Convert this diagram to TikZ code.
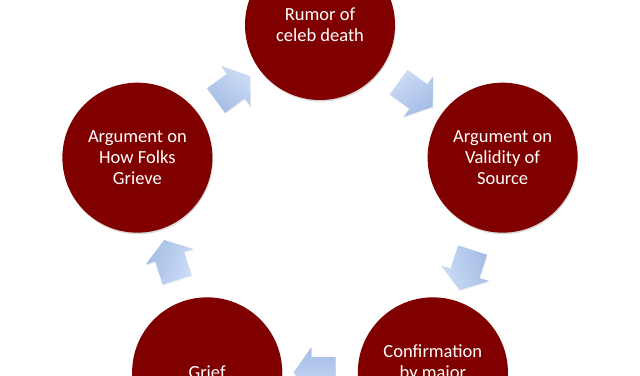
\documentclass[tikz,border=0pt]{standalone}
\usepackage{fontspec}
\setmainfont{Carlito}
\usetikzlibrary{calc,shapes.arrows,shadows}
\definecolor{stagered}{RGB}{128,0,0}
\definecolor{flowtop}{RGB}{204,220,246}
\definecolor{flowbot}{RGB}{164,188,229}

\begin{document}
\begin{tikzpicture}[
  stg/.style={circle, fill=stagered, minimum size=150pt, inner sep=0pt,
              align=center, text=white, font=\fontsize{18.5}{21}\selectfont,
              drop shadow={opacity=0.3, shadow xshift=0.6pt, shadow yshift=-1.6pt}},
  flw/.style={single arrow, minimum height=42pt, minimum width=50pt,
              inner xsep=0pt, inner ysep=15pt, single arrow head extend=10pt,
              single arrow tip angle=110, top color=flowtop, bottom color=flowbot,
              rotate=#1, shading angle=-#1,
              drop shadow={opacity=0.15, shadow xshift=0.5pt, shadow yshift=-1pt}}]
\useasboundingbox (-320pt,-158pt) rectangle (320pt,217pt);
\clip (-320pt,-158pt) rectangle (320pt,217pt);
\node[stg] (rumor) at (90:192pt) {Rumor of\\celeb death};
\node[stg] (valid) at (18:192pt) {Argument on\\Validity of\\Source};
\node[stg] (confirm) at (-54:192pt) {Confirmation\\by major\\\mbox{}};
\node[stg] (grief) at (-126:192pt) {Grief};
\node[stg] (folks) at (162:192pt) {Argument on\\How Folks\\Grieve};
\node[flw=-36] (f1) at ($(rumor)!.5!(valid)$) {};
\node[flw=-108] (f2) at ($(valid)!.5!(confirm)$) {};
\node[flw=180] (f3) at ($(confirm)!.5!(grief)$) {};
\node[flw=108] (f4) at ($(grief)!.5!(folks)$) {};
\node[flw=36] (f5) at ($(folks)!.5!(rumor)$) {};
\end{tikzpicture}
\end{document}
